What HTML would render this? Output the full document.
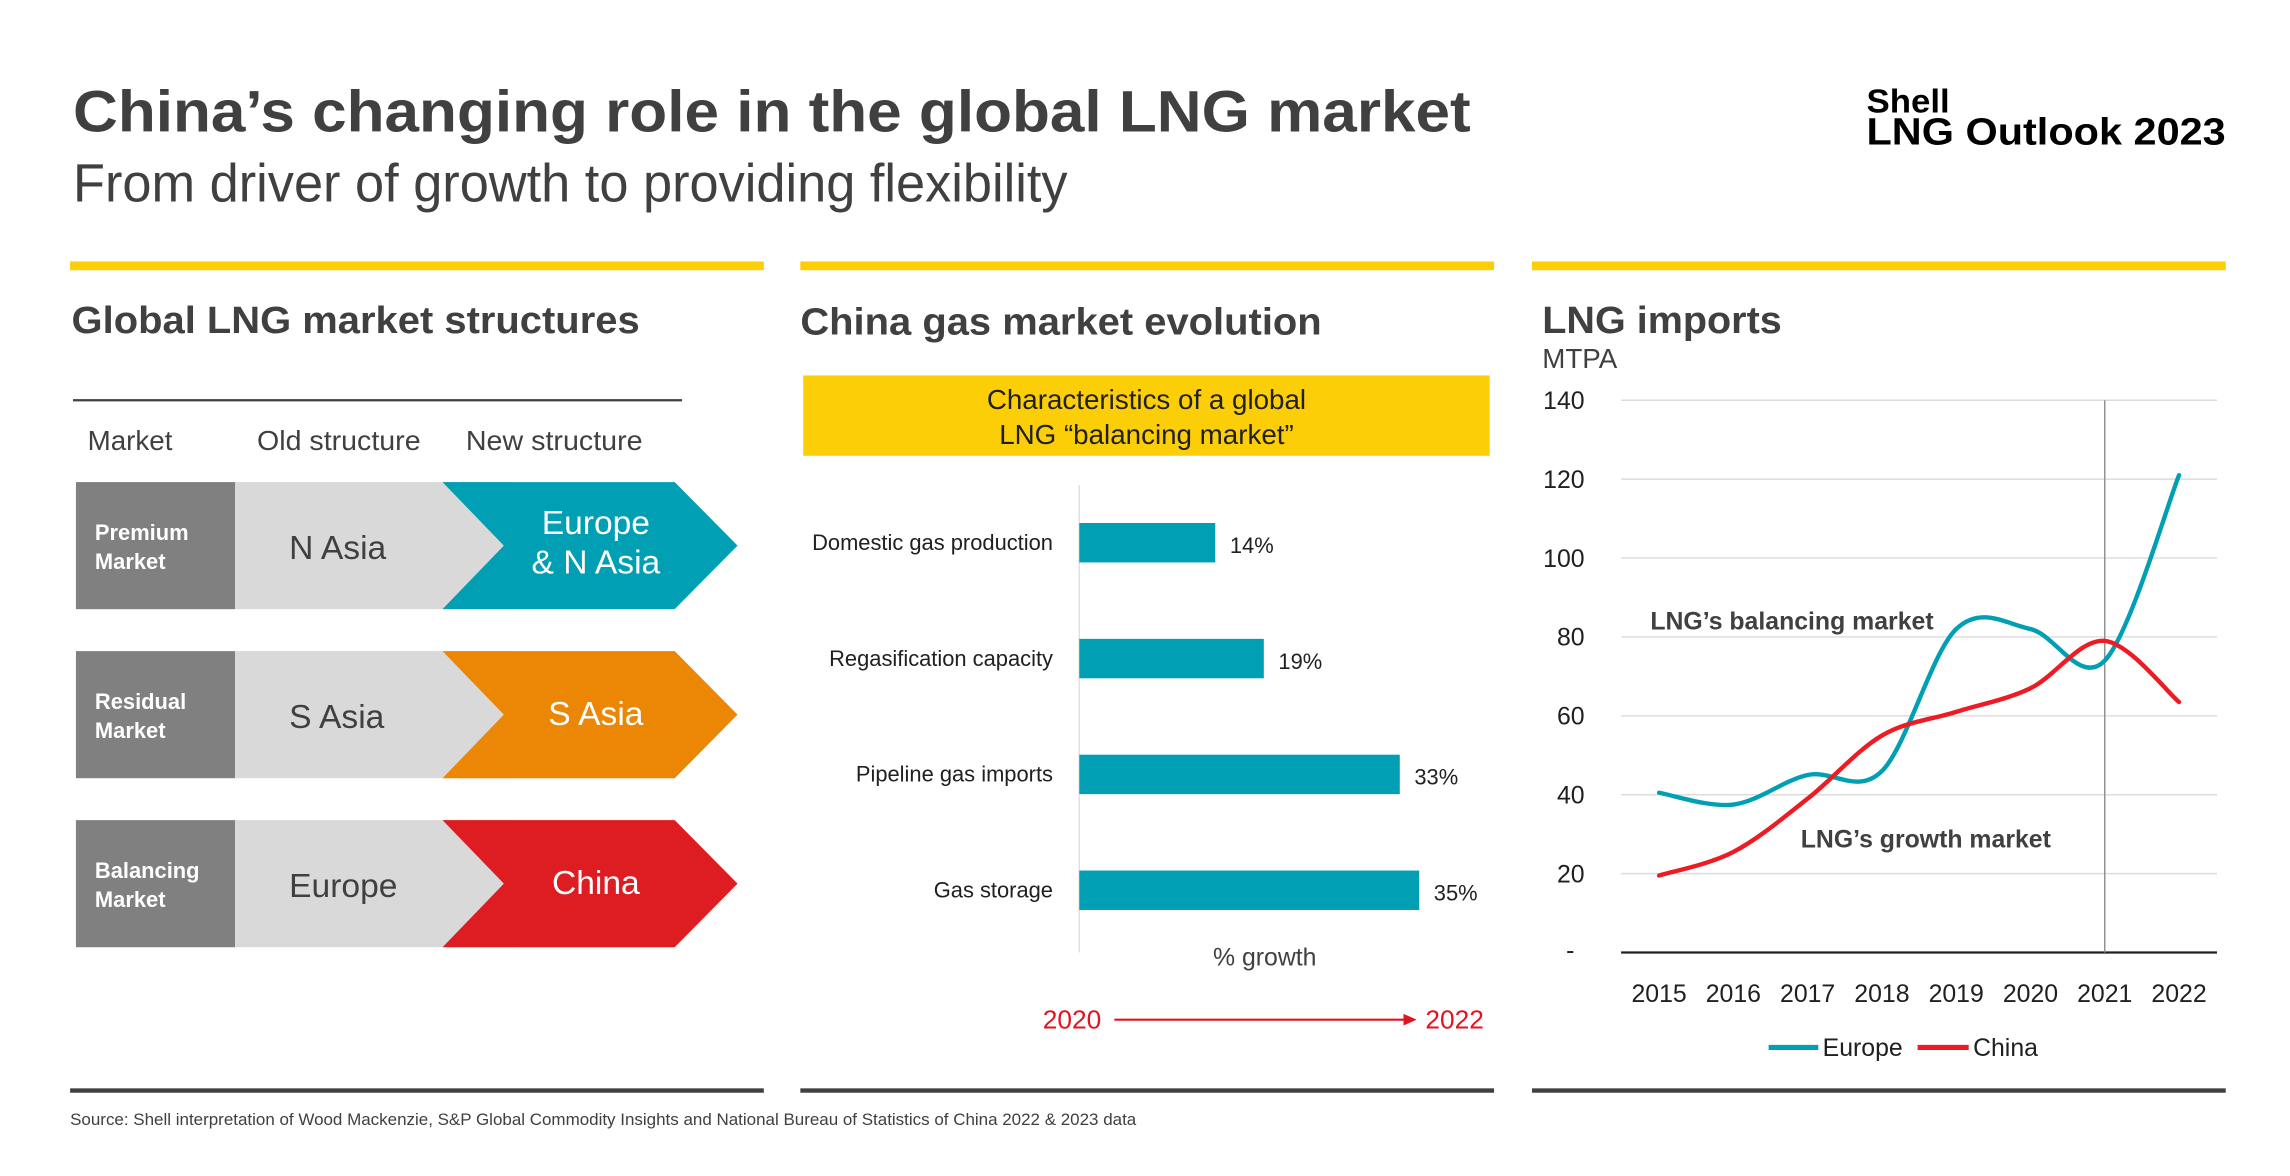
<!DOCTYPE html>
<html><head><meta charset="utf-8"><style>
html,body{margin:0;padding:0;background:#fff;}
svg{display:block;font-family:"Liberation Sans",sans-serif;}
</style></head><body>
<svg id="s" width="2290" height="1176" viewBox="0 0 1568 805" preserveAspectRatio="none">
<g>
<text x="50" y="90" font-size="40" font-weight="bold" fill="#404040" textLength="957" lengthAdjust="spacingAndGlyphs">China’s changing role in the global LNG market</text>
<text x="50" y="138" font-size="37" fill="#404040" textLength="681" lengthAdjust="spacingAndGlyphs">From driver of growth to providing flexibility</text>
<text x="1278" y="77" font-size="23" font-weight="bold" fill="#000" textLength="57" lengthAdjust="spacingAndGlyphs">Shell</text>
<text x="1278" y="99" font-size="26" font-weight="bold" fill="#000" textLength="246" lengthAdjust="spacingAndGlyphs">LNG Outlook 2023</text>
</g>
<rect x="48" y="179" width="475" height="6" fill="#fbce07"/>
<rect x="548" y="179" width="475" height="6" fill="#fbce07"/>
<rect x="1049" y="179" width="475" height="6" fill="#fbce07"/>
<rect x="48" y="745" width="475" height="3" fill="#404040"/>
<rect x="548" y="745" width="475" height="3" fill="#404040"/>
<rect x="1049" y="745" width="475" height="3" fill="#404040"/>
<text x="48" y="770" font-size="11.5" fill="#404040" textLength="730" lengthAdjust="spacingAndGlyphs">Source: Shell interpretation of Wood Mackenzie, S&amp;P Global Commodity Insights and National Bureau of Statistics of China 2022 &amp; 2023 data</text>

<g>
<text x="49" y="228" font-size="26" font-weight="bold" fill="#404040" textLength="389" lengthAdjust="spacingAndGlyphs">Global LNG market structures</text>
<line x1="50" y1="274" x2="467" y2="274" stroke="#404040" stroke-width="1.5"/>
<text x="60" y="308" font-size="19" fill="#404040">Market</text>
<text x="176" y="308" font-size="19" fill="#404040" textLength="112" lengthAdjust="spacingAndGlyphs">Old structure</text>
<text x="319" y="308" font-size="19" fill="#404040" textLength="121" lengthAdjust="spacingAndGlyphs">New structure</text>
<g id="rows"></g>
</g>

<g>
<text x="548" y="229" font-size="26" font-weight="bold" fill="#404040" textLength="357" lengthAdjust="spacingAndGlyphs">China gas market evolution</text>
<rect x="550" y="257" width="470" height="55" fill="#fbce07"/>
<text x="785" y="280" font-size="19" fill="#202020" text-anchor="middle">Characteristics of a global</text>
<text x="785" y="304" font-size="19" fill="#202020" text-anchor="middle">LNG “balancing market”</text>
<line x1="739" y1="332" x2="739" y2="652" stroke="#e0e0e0" stroke-width="1"/>
<g id="bars"></g>
<text x="866" y="661" font-size="17" fill="#404040" text-anchor="middle">% growth</text>
<text x="714" y="704" font-size="18" fill="#e0141e">2020</text>
<line x1="763" y1="698" x2="962" y2="698" stroke="#e0141e" stroke-width="1.5"/>
<polygon points="970,698 961,694 961,702" fill="#e0141e"/>
<text x="976" y="704" font-size="18" fill="#e0141e">2022</text>
</g>

<g>
<text x="1056" y="228" font-size="26" font-weight="bold" fill="#404040" textLength="164" lengthAdjust="spacingAndGlyphs">LNG imports</text>
<text x="1056" y="252" font-size="19" fill="#404040">MTPA</text>
<g id="chart"></g>
</g>
</svg>
<script>
var NS='http://www.w3.org/2000/svg';
function mk(tag,attrs,parent,txt){var e=document.createElementNS(NS,tag);for(var k in attrs)e.setAttribute(k,attrs[k]);if(txt!==undefined)e.textContent=txt;parent.appendChild(e);return e;}

// ---- market structures table ----
var rowLabels1=['Premium','Residual','Balancing'];
var oldMarkets=['N Asia','S Asia','Europe'];
var newMarkets=[['Europe','& N Asia'],['S Asia'],['China']];
var newColors=['#009fb4','#eb8705','#dd1d21'];
var rowsG=document.getElementById('rows');
for(var i=0;i<3;i++){
  var y0=330+i*115.7,h=87,ym=y0+h/2;
  var r=mk('rect',{x:52,y:y0,width:109,height:h,fill:'#808080'},rowsG);
  
  
  var lg=mk('rect',{x:161,y:y0,width:190,height:h,fill:'#d9d9d9'},rowsG);
  
  
  var p=mk('polygon',{points:[303,y0,462,y0,505,ym,462,y0+h,303,y0+h,345,ym].join(' '),fill:newColors[i]},rowsG);
  
  
  var t1=mk('text',{x:65,y:ym-4,'font-size':15,'font-weight':'bold',fill:'#fff'},rowsG,rowLabels1[i]);
  
  
  var t2=mk('text',{x:65,y:ym+16,'font-size':15,'font-weight':'bold',fill:'#fff'},rowsG,'Market');
  
  
  var t3=mk('text',{x:198,y:ym+9,'font-size':23,fill:'#404040'},rowsG,oldMarkets[i]);
  
  
  var nm=newMarkets[i];
  for(var j=0;j<nm.length;j++){
    var yy=nm.length==2?ym-8+j*27:ym+7;
    var t4=mk('text',{x:408,y:yy,'font-size':23,fill:'#fff','text-anchor':'middle'},rowsG,nm[j]);
    
    
  }
}

// ---- bar chart ----
var barCategories=['Domestic gas production','Regasification capacity','Pipeline gas imports','Gas storage'];
var barValues=[14,19,33,35];
var barLabels=['14%','19%','33%','35%'];
var barsG=document.getElementById('bars');
function bx(v){return 739+v*6.65;}
for(var i=0;i<barValues.length;i++){
  var yc=371.5+i*79.3;
  var b=mk('rect',{x:739,y:yc-13.5,width:bx(barValues[i])-739,height:27,fill:'#009fb4'},barsG);
  
  
  var c=mk('text',{x:721,y:yc+5,'font-size':15,fill:'#202020','text-anchor':'end'},barsG,barCategories[i]);
  
  
  var v=mk('text',{x:bx(barValues[i])+10,y:yc+7,'font-size':15,fill:'#202020'},barsG,barLabels[i]);
  
  
}

// ---- line chart ----
var years=['2015','2016','2017','2018','2019','2020','2021','2022'];
var europe=[40.5,37.5,45,46,82,82,74,121];
var china=[19.5,25.5,39,55,61,67,79,63.5];
var yTicks=[20,40,60,80,100,120,140];
var chartG=document.getElementById('chart');
function xs(i){return 1136+i*50.86;}
function ys(v){return 652-v*2.7;}
yTicks.forEach(function(t){
  var g=mk('line',{x1:1110,x2:1518,y1:ys(t),y2:ys(t),stroke:'#dcdcdc','stroke-width':1},chartG);
  
  
  var l=mk('text',{x:1085,y:ys(t)+6,'font-size':17,fill:'#202020','text-anchor':'end'},chartG,String(t));
  
  
});
var z=mk('text',{x:1078,y:ys(0)+4,'font-size':17,fill:'#202020','text-anchor':'end'},chartG,'-');


var ax=mk('line',{x1:1110,x2:1518,y1:ys(0),y2:ys(0),stroke:'#202020','stroke-width':1.5},chartG);


var vl=mk('line',{x1:xs(6),x2:xs(6),y1:ys(140),y2:ys(0),stroke:'#909090','stroke-width':1},chartG);


years.forEach(function(yr,i){
  var l=mk('text',{x:xs(i),y:686,'font-size':17,fill:'#202020','text-anchor':'middle'},chartG,yr);
  
  
});
function smooth(vals){
  var p=vals.map(function(v,i){return [xs(i),ys(v)];});
  var d='M'+p[0][0]+','+p[0][1];
  for(var i=0;i<p.length-1;i++){
    var p0=p[i-1]||p[i],p1=p[i],p2=p[i+1],p3=p[i+2]||p[i+1];
    var c1=[p1[0]+(p2[0]-p0[0])/6,p1[1]+(p2[1]-p0[1])/6];
    var c2=[p2[0]-(p3[0]-p1[0])/6,p2[1]-(p3[1]-p1[1])/6];
    d+=' C'+c1[0]+','+c1[1]+' '+c2[0]+','+c2[1]+' '+p2[0]+','+p2[1];
  }
  return d;
}
var le=mk('path',{d:smooth(europe),fill:'none',stroke:'#009fb4','stroke-width':3,'stroke-linecap':'round'},chartG);


var lc=mk('path',{d:smooth(china),fill:'none',stroke:'#ed1c24','stroke-width':3,'stroke-linecap':'round'},chartG);


var a1=mk('text',{x:1130,y:431,'font-size':17,'font-weight':'bold',fill:'#404040'},chartG,'LNG’s balancing market');


var a2=mk('text',{x:1233,y:580,'font-size':17,'font-weight':'bold',fill:'#404040'},chartG,'LNG’s growth market');


var k1=mk('line',{x1:1211,x2:1245,y1:717,y2:717,stroke:'#009fb4','stroke-width':3.5},chartG);


var k2=mk('text',{x:1248,y:723,'font-size':17,fill:'#202020'},chartG,'Europe');


var k3=mk('line',{x1:1313,x2:1348,y1:717,y2:717,stroke:'#ed1c24','stroke-width':3.5},chartG);


var k4=mk('text',{x:1351,y:723,'font-size':17,fill:'#202020'},chartG,'China');


</script>
</body></html>
